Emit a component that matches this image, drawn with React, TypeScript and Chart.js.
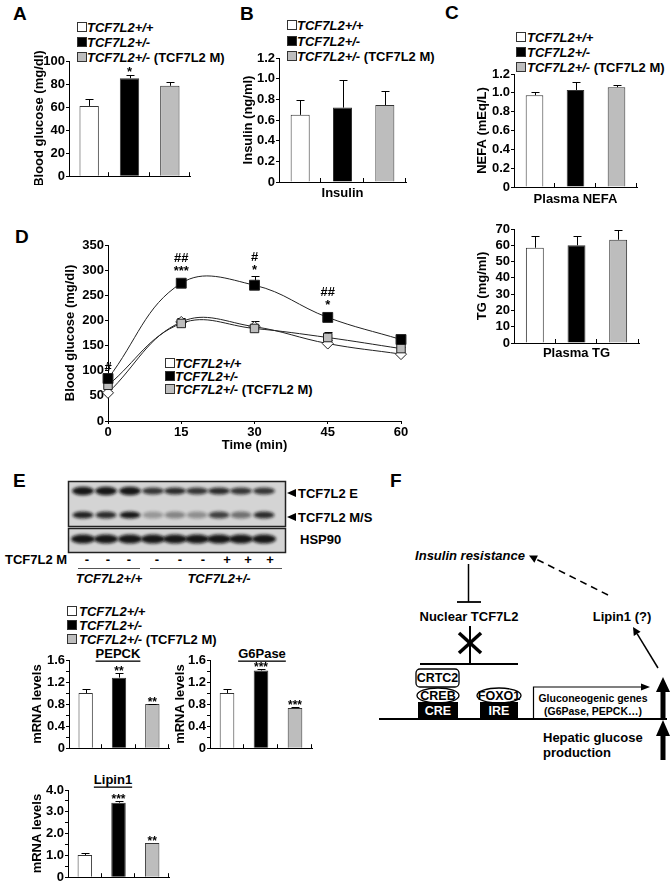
import React, { useEffect, useRef } from "react";
import { Chart, registerables } from "chart.js";
Chart.register(...registerables);

const FONT = "Arial, 'Liberation Sans', Helvetica, sans-serif";
Chart.defaults.font.family = FONT;
Chart.defaults.color = "#000";

// ---------- data ----------
const GROUP_LABELS = ["TCF7L2+/+", "TCF7L2+/-", "TCF7L2+/- (TCF7L2 M)"];
const GROUP_COLORS = ["#ffffff", "#000000", "#bdbdbd"];

// A: blood glucose
const glucoseValues = [61, 85, 78.5];
const glucoseErrors = [5.7, 2.8, 3.6];
const glucoseStars = ["", "*", ""];
// B: insulin
const insulinValues = [0.65, 0.72, 0.745];
const insulinErrors = [0.14, 0.27, 0.135];
// C: NEFA / TG
const nefaValues = [0.975, 1.03, 1.06];
const nefaErrors = [0.03, 0.08, 0.02];
const tgValues = [58.5, 60, 63.4];
const tgErrors = [7.2, 5.7, 6.2];
// D: GTT
const ipgttTimes = [0, 15, 30, 45, 60];
const ipgttWT = [56, 197, 187.5, 154, 133];
const ipgttWTErr = [3, 8, 12, 8, 3];
const ipgttHet = [84.5, 274, 270, 206, 162];
const ipgttHetErr = [5, 7, 18, 3, 6];
const ipgttHetM = [71, 194, 184, 166, 144];
const ipgttHetMErr = [4, 6, 6, 10, 4];
const ipgttHetStars = ["", "***", "*", "*", ""];
const ipgttHetHashes = ["#", "##", "#", "##", ""];
// E: mRNA
const pepckValues = [1.0, 1.28, 0.8];
const pepckErrors = [0.08, 0.08, 0.01];
const pepckStars = ["", "**", "**"];
const g6paseValues = [1.0, 1.41, 0.73];
const g6paseErrors = [0.07, 0.03, 0.01];
const g6paseStars = ["", "***", "***"];
const lipinValues = [1.02, 3.42, 1.57];
const lipinErrors = [0.1, 0.06, 0.0];
const lipinStars = ["", "***", "**"];
// E: blot lanes
const blotSigns = ["-", "-", "-", "-", "-", "-", "+", "+", "+"];

// ---------- plugins ----------
function drawErrorBars(chart: any, cap: number) {
  const ctx = chart.ctx;
  const ys = chart.scales.y;
  chart.data.datasets.forEach((ds: any, di: number) => {
    if (!ds.errors) return;
    const meta = chart.getDatasetMeta(di);
    meta.data.forEach((el: any, i: number) => {
      const e = ds.errors[i];
      if (!e) return;
      const v = ds.values[i];
      const top = Math.round(ys.getPixelForValue(v + e)) + 0.5;
      const base = ys.getPixelForValue(v);
      const x = Math.round(el.x) + 0.5;
      ctx.save();
      ctx.strokeStyle = "#000";
      ctx.lineWidth = 1;
      ctx.beginPath();
      ctx.moveTo(x, base);
      ctx.lineTo(x, top);
      ctx.moveTo(x - cap, top);
      ctx.lineTo(x + cap, top);
      ctx.stroke();
      ctx.restore();
    });
  });
}
const errorBarsAfter = {
  id: "errorBarsAfter",
  afterDatasetsDraw(chart: any) {
    drawErrorBars(chart, 4);
  },
};
const errorBarsBefore = {
  id: "errorBarsBefore",
  beforeDatasetsDraw(chart: any) {
    drawErrorBars(chart, 4);
  },
};
const sigMarks = {
  id: "sigMarks",
  afterDatasetsDraw(chart: any) {
    const ctx = chart.ctx;
    const ys = chart.scales.y;
    chart.data.datasets.forEach((ds: any, di: number) => {
      if (!ds.stars && !ds.hashes) return;
      const meta = chart.getDatasetMeta(di);
      meta.data.forEach((el: any, i: number) => {
        const v = ds.values[i];
        const e = (ds.errors && ds.errors[i]) || 0;
        let base = ys.getPixelForValue(v + e);
        if (ds.markerHalf) base = Math.min(base, el.y - ds.markerHalf);
        base -= ds.markGap ?? 2;
        ctx.save();
        ctx.fillStyle = "#000";
        ctx.textAlign = "center";
        ctx.textBaseline = "alphabetic";
        ctx.font = `bold ${ds.markSize || 13}px ${FONT}`;
        const s = ds.stars ? ds.stars[i] : "";
        if (s) ctx.fillText(s, el.x, base);
        const h = ds.hashes ? ds.hashes[i] : "";
        if (h) ctx.fillText(h, el.x, s ? base - 13 : base);
        ctx.restore();
      });
    });
  },
};
const catTicks = {
  id: "catTicks",
  afterDraw(chart: any) {
    const x = chart.scales.x;
    const n = chart.data.labels.length;
    const w = (x.right - x.left) / n;
    const ctx = chart.ctx;
    ctx.save();
    ctx.strokeStyle = "#000";
    ctx.lineWidth = 1;
    ctx.beginPath();
    for (let i = 1; i <= n; i++) {
      const px = Math.round(x.left + i * w) - 0.5;
      ctx.moveTo(px, x.top);
      ctx.lineTo(px, x.top - 4);
    }
    ctx.stroke();
    ctx.restore();
  },
};

// ---------- chart helpers ----------
type Box = { l: number; t: number; r: number; b: number; yW: number; xH: number; padT?: number; padR?: number };

function yAxis(max: number, step: number, labelStep: number, decimals: number, title: string, yW: number) {
  return {
    min: 0,
    max,
    ticks: {
      stepSize: step,
      autoSkip: false,
      color: "#000",
      padding: 1,
      font: { family: FONT, size: 13, weight: "bold" },
      callback: (v: number) => {
        const r = v / labelStep;
        if (Math.abs(r - Math.round(r)) > 1e-6) return "";
        return Math.abs(v) < 1e-9 ? "0" : v.toFixed(decimals);
      },
    },
    grid: { drawOnChartArea: false, color: "#000", tickLength: 3, lineWidth: 1 },
    border: { display: true, color: "#000", width: 1 },
    title: { display: true, text: title, color: "#000", padding: 0, font: { family: FONT, size: 13, weight: "bold" } },
    afterFit: (s: any) => {
      s.width = yW;
    },
  };
}
function xCatAxis(title: string, xH: number) {
  return {
    ticks: { display: false },
    grid: { display: false },
    border: { display: true, color: "#000", width: 1 },
    title: title
      ? { display: true, text: title, color: "#000", padding: 0, font: { family: FONT, size: 13, weight: "bold" } }
      : { display: false },
    afterFit: (s: any) => {
      s.height = xH;
    },
  };
}

function barConfig(
  box: Box,
  values: number[],
  errors: number[],
  stars: string[] | null,
  yMax: number,
  step: number,
  labelStep: number,
  decimals: number,
  yTitle: string,
  xTitle: string,
  barPct: number,
  markSize = 13,
  markGap = -1
) {
  return {
    type: "bar",
    data: {
      labels: GROUP_LABELS,
      datasets: [
        {
          data: values,
          values,
          errors,
          stars,
          markSize,
          markGap,
          backgroundColor: GROUP_COLORS,
          borderColor: "#333",
          borderWidth: 1,
          barPercentage: barPct,
          categoryPercentage: 1,
        },
      ],
    },
    options: {
      responsive: false,
      animation: false,
      devicePixelRatio: 1,
      events: [],
      plugins: { legend: { display: false }, tooltip: { enabled: false } },
      scales: {
        x: xCatAxis(xTitle, box.xH),
        y: yAxis(yMax, step, labelStep, decimals, yTitle, box.yW),
      },
    },
    plugins: [errorBarsAfter, sigMarks, catTicks],
  };
}

function ChartCanvas({ box, config }: { box: Box; config: () => any }) {
  const ref = useRef<HTMLCanvasElement | null>(null);
  const padT = box.padT ?? 12;
  const padR = box.padR ?? 12;
  const left = box.l - box.yW;
  const top = box.t - padT;
  const width = box.r + padR - left;
  const height = box.b + box.xH - top;
  useEffect(() => {
    const cfg = config();
    cfg.options.layout = { padding: { top: padT, right: padR, left: 0, bottom: 0 } };
    const chart = new Chart(ref.current as HTMLCanvasElement, cfg);
    return () => chart.destroy();
  }, []);
  return (
    <canvas
      ref={ref}
      width={width}
      height={height}
      style={{ position: "absolute", left, top, width, height }}
    />
  );
}

// ---------- boxes ----------
const boxA: Box = { l: 69, t: 61, r: 190, b: 181, yW: 37, xH: 4 };
const boxB: Box = { l: 279, t: 58, r: 406, b: 182, yW: 38, xH: 19 };
const boxC1: Box = { l: 514, t: 74, r: 637, b: 187, yW: 39, xH: 20 };
const boxC2: Box = { l: 514, t: 229, r: 639, b: 343, yW: 39, xH: 18 };
const boxD: Box = { l: 108, t: 245, r: 401, b: 421, yW: 45, xH: 32 };
const boxP: Box = { l: 69, t: 660, r: 169, b: 753, yW: 39, xH: 4 };
const boxG: Box = { l: 210, t: 660, r: 312, b: 753, yW: 37, xH: 4 };
const boxL: Box = { l: 68, t: 790, r: 169, b: 882, yW: 38, xH: 4 };

function lineConfig() {
  const mk = (label: string, vals: number[], errs: number[], color: string, style: string, radius: number, extra: any) => ({
    label,
    data: ipgttTimes.map((t, i) => ({ x: t, y: vals[i] })),
    values: vals,
    errors: errs,
    clip: false,
    borderColor: "#222",
    borderWidth: 1,
    tension: 0.4,
    pointStyle: style,
    pointRadius: radius,
    pointBackgroundColor: color,
    pointBorderColor: "#222",
    pointBorderWidth: 1,
    ...extra,
  });
  return {
    type: "line",
    data: {
      datasets: [
        mk(GROUP_LABELS[1], ipgttHet, ipgttHetErr, "#000", "rect", 7, {
          stars: ipgttHetStars,
          hashes: ipgttHetHashes,
          markerHalf: 6,
          markGap: 2,
        }),
        mk(GROUP_LABELS[2], ipgttHetM, ipgttHetMErr, "#bdbdbd", "rect", 6, {}),
        mk(GROUP_LABELS[0], ipgttWT, ipgttWTErr, "#fff", "rectRot", 5.5, {}),
      ],
    },
    options: {
      responsive: false,
      animation: false,
      devicePixelRatio: 1,
      events: [],
      plugins: { legend: { display: false }, tooltip: { enabled: false } },
      scales: {
        x: {
          type: "linear",
          min: 0,
          max: 60,
          ticks: { stepSize: 15, color: "#000", padding: 1, font: { family: FONT, size: 13, weight: "bold" } },
          grid: { drawOnChartArea: false, color: "#000", tickLength: 3 },
          border: { display: true, color: "#000", width: 1 },
          title: { display: true, text: "Time (min)", color: "#000", padding: 0, font: { family: FONT, size: 13, weight: "bold" } },
          afterFit: (s: any) => {
            s.height = boxD.xH;
          },
        },
        y: yAxis(350, 50, 50, 0, "Blood glucose (mg/dl)", boxD.yW),
      },
    },
    plugins: [errorBarsBefore, sigMarks],
  };
}

// ---------- SVG helpers ----------
const T: any = { fontFamily: FONT, fontWeight: "bold", fill: "#000" };

function LegendSvg({ x, tx, ys }: { x: number; tx: number; ys: number[] }) {
  return (
    <g>
      {GROUP_LABELS.map((lab, i) => {
        const idx = lab.indexOf(" (");
        const it = idx >= 0 ? lab.slice(0, idx) : lab;
        const rest = idx >= 0 ? lab.slice(idx) : "";
        return (
          <g key={i}>
            <rect x={x + 0.5} y={ys[i] - 4.5} width={9} height={9} fill={GROUP_COLORS[i]} stroke="#333" strokeWidth={1} />
            <text x={tx} y={ys[i]} dominantBaseline="central" fontSize={13} {...T}>
              <tspan fontStyle="italic">{it}</tspan>
              {rest && <tspan>{rest}</tspan>}
            </text>
          </g>
        );
      })}
    </g>
  );
}

const laneX = [83, 106, 130, 153, 175, 197, 219, 241, 264];
const signX = [87, 108, 129, 157, 180, 203, 227, 248, 270];
const rowE = [0.95, 0.95, 0.95, 0.8, 0.85, 0.8, 0.85, 0.8, 0.8];
const rowM = [0.9, 0.85, 0.95, 0.3, 0.4, 0.35, 0.75, 0.5, 0.85];

function Blot() {
  return (
    <g>
      <defs>
        <filter id="bl" x="-50%" y="-100%" width="200%" height="300%">
          <feGaussianBlur stdDeviation="1.6" />
        </filter>
      </defs>
      <rect x={68.5} y={481.5} width={217} height={45} fill="#d4d4d4" stroke="#222" strokeWidth={1.5} />
      <rect x={68.5} y={528.5} width={217} height={24} fill="#d4d4d4" stroke="#222" strokeWidth={1.5} />
      {laneX.map((x, i) => (
        <ellipse key={"e" + i} cx={x} cy={491} rx={11} ry={i < 3 ? 4.2 : 3.4} fill="#111" opacity={rowE[i]} filter="url(#bl)" />
      ))}
      {laneX.map((x, i) => (
        <ellipse key={"m" + i} cx={x} cy={515} rx={10.5} ry={3.6} fill="#111" opacity={rowM[i]} filter="url(#bl)" />
      ))}
      {laneX.map((x, i) => (
        <ellipse key={"h" + i} cx={x} cy={539} rx={12} ry={4.6} fill="#111" opacity={0.95} filter="url(#bl)" />
      ))}
      <polygon points="287,493 296,489 296,497" fill="#000" />
      <polygon points="287,517 296,513 296,521" fill="#000" />
      <text x={298} y={493} dominantBaseline="central" fontSize={13} {...T}>TCF7L2 E</text>
      <text x={298} y={517} dominantBaseline="central" fontSize={13} {...T}>TCF7L2 M/S</text>
      <text x={300} y={539} dominantBaseline="central" fontSize={13} {...T}>HSP90</text>
      <text x={5} y={559} dominantBaseline="central" fontSize={13} {...T}>TCF7L2 M</text>
      {blotSigns.map((s, i) => (
        <text key={"s" + i} x={signX[i]} y={559} dominantBaseline="central" textAnchor="middle" fontSize={13} {...T}>{s}</text>
      ))}
      <line x1={78} y1={568.5} x2={140} y2={568.5} stroke="#555" strokeWidth={1} />
      <line x1={150} y1={568.5} x2={282} y2={568.5} stroke="#555" strokeWidth={1} />
      <text x={109} y={578} dominantBaseline="central" textAnchor="middle" fontSize={13} fontStyle="italic" {...T}>TCF7L2+/+</text>
      <text x={219} y={578} dominantBaseline="central" textAnchor="middle" fontSize={13} fontStyle="italic" {...T}>TCF7L2+/-</text>
    </g>
  );
}

function Diagram() {
  return (
    <g>
      <text x={470} y={555} dominantBaseline="central" textAnchor="middle" fontSize={13} fontStyle="italic" {...T}>Insulin resistance</text>
      <line x1={608} y1={595} x2={536} y2={559} stroke="#000" strokeWidth={1.6} strokeDasharray="7 5" />
      <polygon points="529,555.5 537.9,555.5 534.4,562.7" fill="#000" />
      <line x1={468.5} y1={564} x2={468.5} y2={602} stroke="#000" strokeWidth={1.5} />
      <line x1={457} y1={602} x2={481} y2={602} stroke="#000" strokeWidth={1.8} />
      <text x={469} y={616} dominantBaseline="central" textAnchor="middle" fontSize={13} {...T}>Nuclear TCF7L2</text>
      <text x={622} y={616} dominantBaseline="central" textAnchor="middle" fontSize={13} {...T}>Lipin1 (?)</text>
      <line x1={658} y1={668} x2={637.2} y2={633.8} stroke="#000" strokeWidth={1.5} />
      <polygon points="633,627 640.6,631.7 633.8,635.9" fill="#000" />
      <line x1={470} y1={626} x2={470} y2={664} stroke="#000" strokeWidth={2} />
      <line x1={459} y1={633} x2={481} y2={653} stroke="#000" strokeWidth={3.5} />
      <line x1={481} y1={633} x2={459} y2={653} stroke="#000" strokeWidth={3.5} />
      <line x1={420} y1={664} x2={518} y2={664} stroke="#000" strokeWidth={2} />
      <rect x={416} y={669} width={43} height={18} rx={4} fill="#fff" stroke="#000" strokeWidth={1.3} />
      <text x={437.5} y={678} dominantBaseline="central" textAnchor="middle" fontSize={12.5} {...T}>CRTC2</text>
      <ellipse cx={438} cy={695.5} rx={21} ry={7.5} fill="#fff" stroke="#000" strokeWidth={1.3} />
      <text x={438} y={695.5} dominantBaseline="central" textAnchor="middle" fontSize={12.5} {...T}>CREB</text>
      <ellipse cx={499} cy={695.5} rx={22} ry={7.5} fill="#fff" stroke="#000" strokeWidth={1.3} />
      <text x={499} y={695.5} dominantBaseline="central" textAnchor="middle" fontSize={12.5} {...T}>FOXO1</text>
      <rect x={418} y={702} width={40} height={17} fill="#000" />
      <text x={438} y={711} dominantBaseline="central" textAnchor="middle" fontSize={12.5} {...T} fill="#fff">CRE</text>
      <rect x={480} y={702} width={38} height={17} fill="#000" />
      <text x={499} y={711} dominantBaseline="central" textAnchor="middle" fontSize={12.5} {...T} fill="#fff">IRE</text>
      <line x1={379} y1={719} x2={667} y2={719} stroke="#000" strokeWidth={2} />
      <path d="M533.5 719 V687 H642" fill="none" stroke="#000" strokeWidth={1.2} />
      <polygon points="650,687 641,683.5 641,690.5" fill="#000" />
      <text x={593} y={697.5} dominantBaseline="central" textAnchor="middle" fontSize={10.5} {...T}>Gluconeogenic genes</text>
      <text x={593} y={711} dominantBaseline="central" textAnchor="middle" fontSize={10.5} {...T}>(G6Pase, PEPCK…)</text>
      <rect x={660.5} y={690} width={5} height={29} fill="#000" />
      <polygon points="656,692 670,692 663,677" fill="#000" />
      <rect x={660.5} y={734} width={5} height={26} fill="#000" />
      <polygon points="656,736 670,736 663,720" fill="#000" />
      <text x={543} y={737} dominantBaseline="central" fontSize={13} {...T}>Hepatic glucose</text>
      <text x={543} y={752} dominantBaseline="central" fontSize={13} {...T}>production</text>
    </g>
  );
}

export default function App() {
  return (
    <div style={{ position: "absolute", left: 0, top: 0, width: 672, height: 889, background: "#fff", overflow: "hidden" }}>
      <svg width={672} height={889} style={{ position: "absolute", left: 0, top: 0 }}>
        <text x={13} y={20} fontSize={19} {...T}>A</text>
        <text x={240} y={20} fontSize={19} {...T}>B</text>
        <text x={445} y={19} fontSize={19} {...T}>C</text>
        <text x={15} y={243} fontSize={19} {...T}>D</text>
        <text x={13} y={487} fontSize={19} {...T}>E</text>
        <text x={390} y={487} fontSize={19} {...T}>F</text>
        <LegendSvg x={77} tx={87} ys={[27, 42, 57]} />
        <LegendSvg x={287} tx={297} ys={[25, 41, 56]} />
        <LegendSvg x={516} tx={527} ys={[37, 52, 67]} />
        <LegendSvg x={165} tx={175} ys={[363, 376, 389]} />
        <LegendSvg x={67} tx={79} ys={[611, 625, 639]} />
        <text x={118} y={653} dominantBaseline="central" textAnchor="middle" fontSize={13} textDecoration="underline" {...T}>PEPCK</text>
        <text x={262} y={653} dominantBaseline="central" textAnchor="middle" fontSize={13} textDecoration="underline" {...T}>G6Pase</text>
        <text x={113} y={779} dominantBaseline="central" textAnchor="middle" fontSize={13} textDecoration="underline" {...T}>Lipin1</text>
        <Blot />
        <Diagram />
      </svg>
      <ChartCanvas box={boxA} config={() => barConfig(boxA, glucoseValues, glucoseErrors, glucoseStars, 100, 20, 20, 0, "Blood glucose (mg/dl)", "", 0.48, 13, -1)} />
      <ChartCanvas box={boxB} config={() => barConfig(boxB, insulinValues, insulinErrors, null, 1.2, 0.2, 0.2, 1, "Insulin (ng/ml)", "Insulin", 0.45)} />
      <ChartCanvas box={boxC1} config={() => barConfig(boxC1, nefaValues, nefaErrors, null, 1.2, 0.2, 0.2, 1, "NEFA (mEq/L)", "Plasma NEFA", 0.43)} />
      <ChartCanvas box={boxC2} config={() => barConfig(boxC2, tgValues, tgErrors, null, 70, 10, 10, 0, "TG (mg/ml)", "Plasma TG", 0.43)} />
      <ChartCanvas box={boxD} config={lineConfig} />
      <ChartCanvas box={boxP} config={() => barConfig(boxP, pepckValues, pepckErrors, pepckStars, 1.6, 0.2, 0.4, 1, "mRNA levels", "", 0.43, 12, -2)} />
      <ChartCanvas box={boxG} config={() => barConfig(boxG, g6paseValues, g6paseErrors, g6paseStars, 1.6, 0.2, 0.4, 1, "mRNA levels", "", 0.43, 12, -2)} />
      <ChartCanvas box={boxL} config={() => barConfig(boxL, lipinValues, lipinErrors, lipinStars, 4.0, 0.5, 1.0, 1, "mRNA levels", "", 0.43, 12, -2)} />
    </div>
  );
}
